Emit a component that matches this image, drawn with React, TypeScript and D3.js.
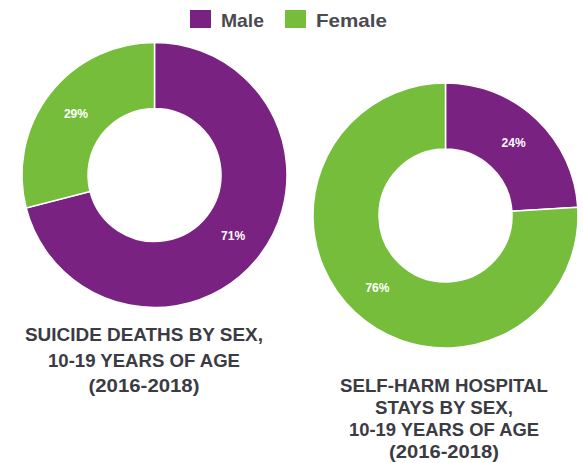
import React from "react";
import * as d3 from "d3";

const categories = ["Male", "Female"];
const suicideValues = [71, 29];
const selfHarmValues = [24, 76];
const suicideTitle = ["SUICIDE DEATHS BY SEX,", "10-19 YEARS OF AGE", "(2016-2018)"];
const selfHarmTitle = ["SELF-HARM HOSPITAL", "STAYS BY SEX,", "10-19 YEARS OF AGE", "(2016-2018)"];
const colors = ["#7a2281", "#75bd3a"];

const W = 583;
const H = 463;

const color = d3.scaleOrdinal<string, string>().domain(categories).range(colors);

function Donut({ cx, cy, values }: { cx: number; cy: number; values: number[] }) {
  const outer = 132.5;
  const inner = 66.5;
  const data = categories.map((c, i) => ({ c, v: values[i] }));
  const pie = d3.pie<{ c: string; v: number }>().value((d) => d.v).sort(null);
  const arc = d3.arc<d3.PieArcDatum<{ c: string; v: number }>>().innerRadius(inner).outerRadius(outer);
  const arcs = pie(data);
  return (
    <g transform={`translate(${cx},${cy})`}>
      {arcs.map((a) => (
        <path key={a.data.c} d={arc(a) || ""} fill={color(a.data.c)} stroke="#ffffff" strokeWidth={1.5} />
      ))}
      {arcs.map((a) => {
        const [x, y] = arc.centroid(a);
        return (
          <text
            key={"l" + a.data.c}
            x={x}
            y={y}
            dy="0.35em"
            textAnchor="middle"
            fill="#ffffff"
            fontSize={12}
            fontWeight="bold"
            fontFamily="'Liberation Sans', Arial, sans-serif"
          >
            {a.data.v + "%"}
          </text>
        );
      })}
    </g>
  );
}

function Title({ cx, lines, y0, step, widths }: { cx: number; lines: string[]; y0: number; step: number; widths: number[] }) {
  return (
    <g>
      {lines.map((l, i) => (
        <text
          key={i}
          x={cx}
          y={y0 + i * step}
          textAnchor="middle"
          fill="#3b3b44"
          fontSize={19}
          fontWeight="bold"
          fontFamily="'Liberation Sans Narrow', 'Liberation Sans', Arial, sans-serif"
          textLength={widths[i]}
          lengthAdjust="spacingAndGlyphs"
        >
          {l}
        </text>
      ))}
    </g>
  );
}

export default function App() {
  const legendX = [190, 285];
  return (
    <svg width={W} height={H} style={{ position: "absolute", left: 0, top: 0, background: "#ffffff" }}>
      <rect width={W} height={H} fill="#ffffff" />
      {categories.map((c, i) => (
        <g key={c}>
          <rect x={legendX[i]} y={10} width={21} height={18} fill={color(c)} />
          <text
            x={legendX[i] + 31}
            y={27}
            fill="#4a4a50"
            fontSize={19}
            fontWeight="bold"
            fontFamily="'Liberation Sans', Arial, sans-serif"
            textLength={i === 0 ? 43 : 71}
            lengthAdjust="spacingAndGlyphs"
          >
            {c}
          </text>
        </g>
      ))}
      <Donut cx={154.5} cy={175} values={suicideValues} />
      <Donut cx={445.5} cy={215.5} values={selfHarmValues} />
      <Title cx={144} lines={suicideTitle} y0={341} step={25.5} widths={[238, 192, 111]} />
      <Title cx={444} lines={selfHarmTitle} y0={392} step={22} widths={[208, 138, 190, 110]} />
    </svg>
  );
}
